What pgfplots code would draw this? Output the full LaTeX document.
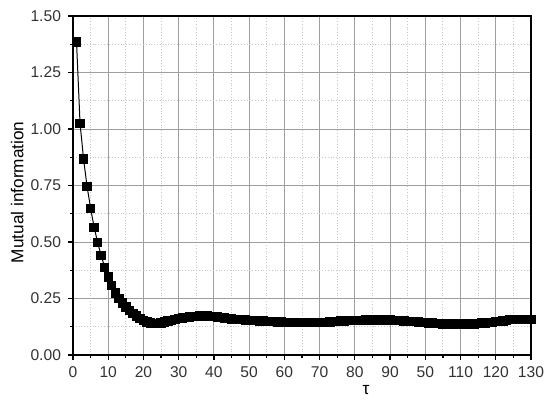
\documentclass[border=0pt]{standalone}
\usepackage{fontspec}
\setmainfont{Liberation Sans}
\usepackage{pgfplots}
\pgfplotsset{compat=1.18}
\usepackage{pgfplotstable}
\pgfplotstableread{
t v
1 1.385
2 1.025
3 0.867
4 0.745
5 0.649
6 0.565
7 0.497
8 0.440
9 0.388
10 0.345
11 0.307
12 0.275
13 0.250
14 0.230
15 0.212
16 0.197
17 0.184
18 0.172
19 0.162
20 0.153
21 0.146
22 0.141
23 0.139
24 0.140
25 0.142
26 0.146
27 0.150
28 0.154
29 0.158
30 0.161
31 0.164
32 0.166
33 0.168
34 0.170
35 0.171
36 0.172
37 0.172
38 0.172
39 0.171
40 0.170
41 0.168
42 0.166
43 0.164
44 0.162
45 0.160
46 0.158
47 0.157
48 0.156
49 0.155
50 0.154
51 0.153
52 0.152
53 0.151
54 0.150
55 0.149
56 0.148
57 0.147
58 0.146
59 0.146
60 0.145
61 0.145
62 0.145
63 0.145
64 0.145
65 0.145
66 0.145
67 0.145
68 0.145
69 0.145
70 0.145
71 0.145
72 0.145
73 0.146
74 0.147
75 0.148
76 0.150
77 0.151
78 0.152
79 0.153
80 0.153
81 0.154
82 0.154
83 0.155
84 0.155
85 0.155
86 0.155
87 0.155
88 0.155
89 0.155
90 0.155
91 0.154
92 0.154
93 0.153
94 0.151
95 0.149
96 0.148
97 0.147
98 0.146
99 0.145
100 0.144
101 0.142
102 0.141
103 0.140
104 0.139
105 0.138
106 0.137
107 0.137
108 0.137
109 0.137
110 0.137
111 0.137
112 0.137
113 0.137
114 0.138
115 0.140
116 0.141
117 0.142
118 0.144
119 0.145
120 0.147
121 0.149
122 0.151
123 0.154
124 0.156
125 0.158
126 0.158
127 0.158
128 0.158
129 0.158
130 0.158
}\mi
\begin{document}
\begin{tikzpicture}
\begin{axis}[
  scale only axis,
  width=229pt, height=169.5pt,
  xmin=0, xmax=130, ymin=0, ymax=1.5,
  xtick={0,10,...,130},
  xticklabels={0,10,20,30,40,50,60,70,80,90,50,110,120,130},
  ytick={0,0.25,...,1.5},
  yticklabel style={/pgf/number format/.cd, fixed, fixed zerofill, precision=2},
  /pgf/number format/assume math mode=true,
  minor x tick num=1, minor y tick num=1,
  tick align=outside,
  xtick pos=left, ytick pos=left,
  major tick length=2.5pt, minor tick length=1.6pt,
  grid=both,
  major grid style={solid, gray!75, line width=0.5pt},
  minor grid style={densely dotted, gray!45, line width=0.5pt},
  axis line style={black, line width=0.6pt},
  every tick/.style={black, line width=0.6pt},
  tick label style={font=\fontsize{7.8}{8.5}\selectfont, text=black!80},
  xlabel={τ}, ylabel={Mutual information},
  label style={font=\fontsize{8.6}{9.5}\selectfont},
  xlabel style={at={(axis description cs:0.64,-0.103)}, anchor=center},
  ylabel style={at={(axis description cs:-0.122,0.48)}, anchor=center},
]
\addplot[black, line width=0.5pt, mark=square*, mark size=2.1pt,
  mark options={solid, fill=black}] table[x=t, y=v] {\mi};
\end{axis}
\pgfresetboundingbox
\useasboundingbox ([xshift=-36.5pt,yshift=-29pt]current axis.south west) rectangle ([xshift=9.5pt,yshift=8pt]current axis.north east);
\end{tikzpicture}
\end{document}
